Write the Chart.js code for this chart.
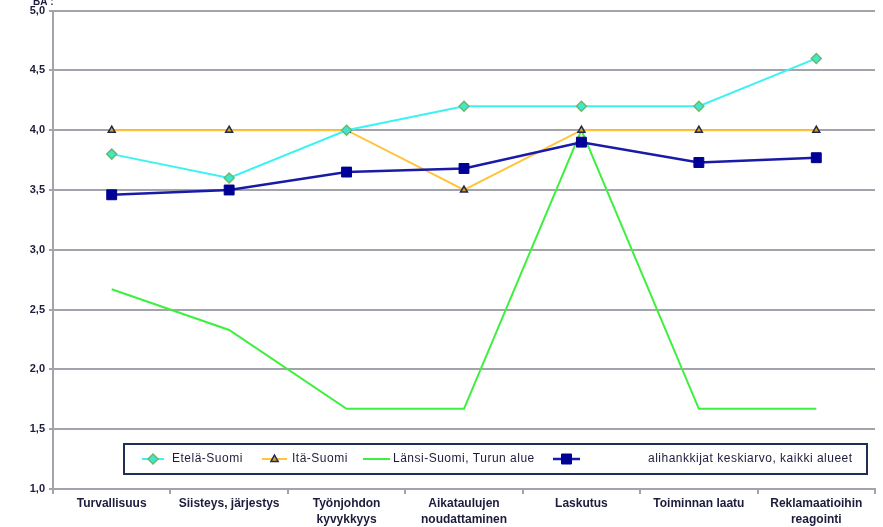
<!DOCTYPE html>
<html>
<head>
<meta charset="utf-8">
<script src="https://cdn.jsdelivr.net/npm/chart.js@4/dist/chart.umd.min.js"></script>
<style>
  html, body { margin: 0; padding: 0; background: #ffffff; }
  #wrap { width: 883px; height: 527px; position: relative; }
</style>
</head>
<body>
<div id="wrap"><canvas id="c"></canvas></div>
<script>
// Categories (two-line labels where the text wraps)
const categories = [
  ['Turvallisuus'],
  ['Siisteys, järjestys'],
  ['Työnjohdon', 'kyvykkyys'],
  ['Aikataulujen', 'noudattaminen'],
  ['Laskutus'],
  ['Toiminnan laatu'],
  ['Reklamaatioihin', 'reagointi']
];

// Series values
const etelaSuomi = [3.8, 3.6, 4.0, 4.2, 4.2, 4.2, 4.6];
const itaSuomi   = [4.0, 4.0, 4.0, 3.5, 4.0, 4.0, 4.0];
const lansiSuomi = [2.67, 2.33, 1.67, 1.67, 4.0, 1.67, 1.67];
const keskiarvo  = [3.46, 3.5, 3.65, 3.68, 3.9, 3.73, 3.77];

const seriesNames = [
  'Etelä-Suomi',
  'Itä-Suomi',
  'Länsi-Suomi, Turun alue',
  'alihankkijat keskiarvo, kaikki alueet'
];

// Y axis range and step
const yMin = 1.0, yMax = 5.0, yStep = 0.5;

const textColor = '#1c1c3c';
const gridColor = '#a3a3ab';

function drawMarker(ctx, style, x, y, r) {
  if (style === 'rectRot') {
    ctx.moveTo(x, y - r); ctx.lineTo(x + r, y); ctx.lineTo(x, y + r); ctx.lineTo(x - r, y); ctx.closePath();
  } else if (style === 'triangle') {
    ctx.moveTo(x, y - r); ctx.lineTo(x + r * 0.9, y + r * 0.6); ctx.lineTo(x - r * 0.9, y + r * 0.6); ctx.closePath();
  } else {
    ctx.rect(x - r, y - r, 2 * r, 2 * r);
  }
}

// Legend box drawn inside the plot area, plus the small corner caption
const boxLegend = {
  id: 'boxLegend',
  afterDraw(chart) {
    const ctx = chart.ctx;
    const ds = chart.data.datasets;
    ctx.save();
    // caption at top-left
    ctx.font = 'bold 10px "Liberation Sans", Arial, sans-serif';
    ctx.fillStyle = textColor;
    ctx.textBaseline = 'alphabetic';
    ctx.textAlign = 'left';
    ctx.fillText('BA :', 33, 5);

    // frame
    const bx = 124, by = 444, bw = 743, bh = 30;
    ctx.fillStyle = '#ffffff';
    ctx.fillRect(bx, by, bw, bh);
    ctx.strokeStyle = '#1f2f55';
    ctx.lineWidth = 2;
    ctx.strokeRect(bx, by, bw, bh);

    const cy = by + bh / 2;
    const items = [
      { x0: 142, x1: 164, tx: 172 },
      { x0: 262, x1: 287, tx: 292 },
      { x0: 363, x1: 390, tx: 393 },
      { x0: 553, x1: 580, tx: 648 }
    ];
    ctx.font = '12px "Liberation Sans", Arial, sans-serif';
    if ('letterSpacing' in ctx) ctx.letterSpacing = '0.5px';
    ctx.textBaseline = 'middle';
    items.forEach((it, i) => {
      const d = ds[i];
      ctx.strokeStyle = d.borderColor;
      ctx.lineWidth = d.borderWidth;
      ctx.beginPath();
      ctx.moveTo(it.x0, cy);
      ctx.lineTo(it.x1, cy);
      ctx.stroke();
      if (d.pointRadius > 0) {
        const lr = Math.min(d.pointRadius, 5);
        ctx.fillStyle = d.pointBackgroundColor;
        ctx.strokeStyle = d.pointBorderColor;
        ctx.lineWidth = d.pointBorderWidth;
        ctx.beginPath();
        drawMarker(ctx, d.pointStyle, (it.x0 + it.x1) / 2, cy, lr);
        ctx.fill();
        ctx.stroke();
      }
      ctx.fillStyle = textColor;
      ctx.fillText(d.label, it.tx, cy);
    });
    ctx.restore();
  }
};

new Chart(document.getElementById('c'), {
  type: 'line',
  data: {
    labels: categories,
    datasets: [
      {
        label: seriesNames[0],
        data: etelaSuomi,
        borderColor: '#3df2f2',
        borderWidth: 2,
        pointStyle: 'rectRot',
        pointRadius: 5,
        pointBackgroundColor: '#3ce8d0',
        pointBorderColor: '#6cb86c',
        pointBorderWidth: 1.5,
        tension: 0,
        order: 1
      },
      {
        label: seriesNames[1],
        data: itaSuomi,
        borderColor: '#ffc43a',
        borderWidth: 2,
        pointStyle: 'triangle',
        pointRadius: 4,
        pointBackgroundColor: '#d8a020',
        pointBorderColor: '#1c2a50',
        pointBorderWidth: 1.5,
        tension: 0,
        order: 2
      },
      {
        label: seriesNames[2],
        data: lansiSuomi,
        borderColor: '#3ef03e',
        borderWidth: 2,
        pointRadius: 0,
        pointBorderWidth: 0,
        tension: 0,
        order: 3
      },
      {
        label: seriesNames[3],
        data: keskiarvo,
        borderColor: '#1a1aa8',
        borderWidth: 2.5,
        pointStyle: 'rect',
        pointRadius: 7,
        pointBackgroundColor: '#000099',
        pointBorderColor: '#000088',
        pointBorderWidth: 1,
        tension: 0,
        order: 0
      }
    ]
  },
  options: {
    responsive: true,
    maintainAspectRatio: false,
    animation: false,
    layout: { padding: { top: 9, right: 6, left: 0, bottom: 0 } },
    plugins: {
      legend: { display: false },
      tooltip: { enabled: false }
    },
    scales: {
      x: {
        offset: true,
        grid: {
          offset: true,
          drawOnChartArea: false,
          drawTicks: true,
          tickLength: 5,
          color: gridColor,
          lineWidth: 2
        },
        border: { color: gridColor, width: 2 },
        ticks: {
          color: textColor,
          font: { family: '"Liberation Sans", Arial, sans-serif', size: 12, weight: 'bold', lineHeight: 1.3 },
          maxRotation: 0,
          autoSkip: false,
          padding: 2
        },
        afterFit(scale) { scale.height = 38; }
      },
      y: {
        min: yMin,
        max: yMax,
        ticks: {
          stepSize: yStep,
          color: textColor,
          font: { family: '"Liberation Sans", Arial, sans-serif', size: 11, weight: 'bold' },
          padding: 4,
          callback: v => v.toFixed(1).replace('.', ',')
        },
        grid: {
          color: gridColor,
          lineWidth: 2,
          drawTicks: true,
          tickLength: 4
        },
        border: { color: gridColor, width: 2 },
        afterFit(scale) { scale.width = 53; }
      }
    }
  },
  plugins: [boxLegend]
});
</script>
</body>
</html>
